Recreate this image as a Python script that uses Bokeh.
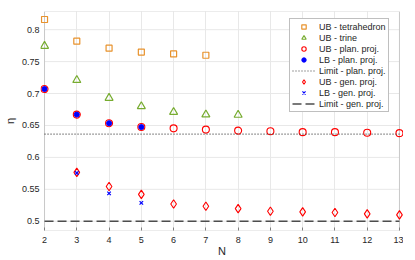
from bokeh.plotting import figure
from bokeh.models import FixedTicker, Range1d, Legend, LegendItem, PolyAnnotation
from bokeh.embed import file_html
from bokeh.resources import INLINE

# ---- data ----
N_tet = [2, 3, 4, 5, 6, 7]
ub_tet = [0.816, 0.782, 0.771, 0.765, 0.762, 0.760]

N_trine = [2, 3, 4, 5, 6, 7, 8]
ub_trine = [0.7745, 0.721, 0.693, 0.680, 0.671, 0.667, 0.6665]

N_plan = [2, 3, 4, 5, 6, 7, 8, 9, 10, 11, 12, 13]
ub_plan = [0.7071, 0.667, 0.6535, 0.6475, 0.6455, 0.6435, 0.642, 0.641, 0.6395, 0.6395, 0.6385, 0.638]

N_lb_plan = [2, 3, 4, 5]
lb_plan = [0.7071, 0.667, 0.6535, 0.6475]

N_gen = [3, 4, 5, 6, 7, 8, 9, 10, 11, 12, 13]
ub_gen = [0.5765, 0.5545, 0.542, 0.527, 0.5234, 0.5198, 0.5156, 0.5146, 0.5136, 0.5115, 0.510]

N_lb_gen = [3, 4, 5]
lb_gen = [0.5755, 0.5436, 0.5287]

N_limit = [2, 13]
limit_plan = [0.6366, 0.6366]
limit_gen = [0.5, 0.5]

x_ticks = [2, 3, 4, 5, 6, 7, 8, 9, 10, 11, 12, 13]
y_ticks = [0.5, 0.55, 0.6, 0.65, 0.7, 0.75, 0.8]

X0, X1 = 2, 13            # axes box in x
Y0, Y1 = 0.4855, 0.8285   # axes box in y
PAD = 0.125               # room so edge markers are not clipped

FONT = "Liberation Sans"
AX = "#262626"
LINE = "#808080"

p = figure(frame_width=363, frame_height=219, output_backend="svg",
           toolbar_location=None, x_range=Range1d(X0 - PAD, X1 + PAD), y_range=Range1d(Y0, Y1),
           min_border_left=40, min_border_right=0, min_border_top=11, min_border_bottom=0)
p.outline_line_color = None

p.xaxis.ticker = FixedTicker(ticks=x_ticks)
p.yaxis.ticker = FixedTicker(ticks=y_ticks)
p.xgrid.ticker = FixedTicker(ticks=x_ticks)
p.xgrid.grid_line_color = "#e8e8e8"
p.ygrid.visible = False
p.segment(x0=X0, x1=X1, y0=y_ticks, y1=y_ticks, line_color="#e8e8e8", line_width=1, level="underlay")

for ax in (p.xaxis[0], p.yaxis[0]):
    ax.axis_line_color = None
    ax.major_tick_line_color = LINE
    ax.major_tick_in = 3
    ax.major_tick_out = 0
    ax.minor_tick_line_color = None
    ax.major_label_text_font = FONT
    ax.major_label_text_font_size = "9px"
    ax.major_label_text_color = AX
    ax.axis_label_text_font = FONT
    ax.axis_label_text_font_size = "11px"
    ax.axis_label_text_font_style = "normal"
    ax.axis_label_text_color = AX
p.yaxis.major_tick_line_color = None
p.xaxis.axis_label = "N"
p.yaxis.axis_label = "η"
p.xaxis.major_label_standoff = 6
p.xaxis.axis_label_standoff = -1
p.yaxis.major_label_standoff = 1
p.yaxis.axis_label_standoff = 3
p.yaxis.formatter.use_scientific = False

box = PolyAnnotation(xs=[X0, X1, X1, X0], ys=[Y0, Y0, Y1, Y1], fill_alpha=0,
                     line_color=LINE, line_width=1, level="underlay")
p.add_layout(box)

# ---- glyphs ----
r_tet = p.scatter(N_tet, ub_tet, marker="square", size=6, fill_color=None,
                  line_color="#E8922C", line_width=1.2)
r_trine = p.scatter(N_trine, ub_trine, marker="triangle", size=8, fill_color=None,
                    line_color="#77AC30", line_width=1.2)
r_ubp = p.scatter(N_plan, ub_plan, marker="circle", size=7, fill_color=None,
                  line_color="#FF0000", line_width=1.1)
r_lbp = p.scatter(N_lb_plan, lb_plan, marker="circle", size=5, fill_color="#0000FF",
                  line_color="#0000FF")
r_limp = p.line(N_limit, limit_plan, line_color="#404040", line_dash="1 2", line_width=1.2)
r_ubg = p.scatter(N_gen, ub_gen, marker="diamond", size=8.5, fill_color=None,
                  line_color="#FF0000", line_width=1.1)
r_lbg = p.scatter(N_lb_gen, lb_gen, marker="x", size=5, line_color="#0000FF", line_width=1.2)
r_limg = p.line(N_limit, limit_gen, line_color="#4d4d4d", line_dash="9 4", line_width=1.5)

legend = Legend(items=[
    LegendItem(label="UB - tetrahedron", renderers=[r_tet]),
    LegendItem(label="UB - trine", renderers=[r_trine]),
    LegendItem(label="UB - plan. proj.", renderers=[r_ubp]),
    LegendItem(label="LB - plan. proj.", renderers=[r_lbp]),
    LegendItem(label="Limit - plan. proj.", renderers=[r_limp]),
    LegendItem(label="UB - gen. proj.", renderers=[r_ubg]),
    LegendItem(label="LB - gen. proj.", renderers=[r_lbg]),
    LegendItem(label="Limit - gen. proj.", renderers=[r_limg]),
], location="top_right")
legend.margin = 0
legend.location = (249, 118)
legend.padding = 2
legend.spacing = 0
legend.glyph_width = 23
legend.glyph_height = 11
legend.label_height = 11
legend.label_standoff = 4
legend.label_text_font = FONT
legend.label_text_font_size = "9px"
legend.label_text_color = AX
legend.border_line_color = LINE
legend.border_line_width = 1
legend.background_fill_color = "white"
legend.background_fill_alpha = 1
p.add_layout(legend, "center")

open("out.html", "w").write(file_html(p, INLINE))
